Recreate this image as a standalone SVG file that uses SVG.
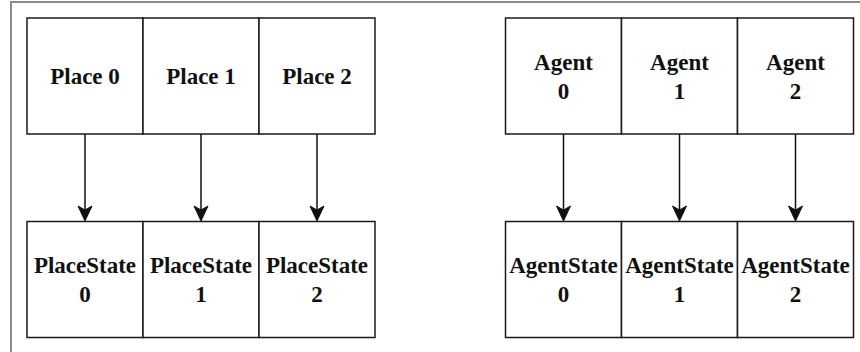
<svg xmlns="http://www.w3.org/2000/svg" width="860" height="352" viewBox="0 0 860 352">
  <style>
    .cell { fill: #ffffff; stroke: #1a1a1a; stroke-width: 1.5; }
    .lbl { font-family: "Liberation Serif", "Times New Roman", serif; font-weight: bold; font-size: 23px; fill: #111111; text-anchor: middle; }
    .edge { stroke: #111111; stroke-width: 1.5; fill: none; }
    .head { fill: #111111; stroke: #111111; stroke-width: 1; stroke-linejoin: miter; }
  </style>
  <defs>
    <!-- classic notched arrowhead, tip at origin pointing down -->
    <path id="arrowhead" class="head" d="M0,0 L-7,-15 L0,-11 L7,-15 Z"/>
  </defs>
  <rect width="860" height="352" fill="#ffffff"/>
  <!-- outer frame -->
  <path d="M11,352 L11,2 L860,2" fill="none" stroke="#8a8a8a" stroke-width="2"/>

  <!-- Places -->
  <g id="place0"><rect class="cell" x="27" y="18" width="116" height="116"/><text class="lbl" x="85" y="84">Place 0</text></g>
  <g id="place1"><rect class="cell" x="143" y="18" width="116" height="116"/><text class="lbl" x="201" y="84">Place 1</text></g>
  <g id="place2"><rect class="cell" x="259" y="18" width="116" height="116"/><text class="lbl" x="317" y="84">Place 2</text></g>

  <!-- PlaceStates -->
  <g id="placestate0"><rect class="cell" x="27" y="221.5" width="116" height="116"/><text class="lbl" x="85" y="273">PlaceState</text><text class="lbl" x="85" y="302">0</text></g>
  <g id="placestate1"><rect class="cell" x="143" y="221.5" width="116" height="116"/><text class="lbl" x="201" y="273">PlaceState</text><text class="lbl" x="201" y="302">1</text></g>
  <g id="placestate2"><rect class="cell" x="259" y="221.5" width="116" height="116"/><text class="lbl" x="317" y="273">PlaceState</text><text class="lbl" x="317" y="302">2</text></g>

  <!-- Agents -->
  <g id="agent0"><rect class="cell" x="505.5" y="18" width="116" height="116"/><text class="lbl" x="563.5" y="70">Agent</text><text class="lbl" x="563.5" y="99">0</text></g>
  <g id="agent1"><rect class="cell" x="621.5" y="18" width="116" height="116"/><text class="lbl" x="679.5" y="70">Agent</text><text class="lbl" x="679.5" y="99">1</text></g>
  <g id="agent2"><rect class="cell" x="737.5" y="18" width="116" height="116"/><text class="lbl" x="795.5" y="70">Agent</text><text class="lbl" x="795.5" y="99">2</text></g>

  <!-- AgentStates -->
  <g id="agentstate0"><rect class="cell" x="505.5" y="221.5" width="116" height="116"/><text class="lbl" x="563.5" y="273">AgentState</text><text class="lbl" x="563.5" y="302">0</text></g>
  <g id="agentstate1"><rect class="cell" x="621.5" y="221.5" width="116" height="116"/><text class="lbl" x="679.5" y="273">AgentState</text><text class="lbl" x="679.5" y="302">1</text></g>
  <g id="agentstate2"><rect class="cell" x="737.5" y="221.5" width="116" height="116"/><text class="lbl" x="795.5" y="273">AgentState</text><text class="lbl" x="795.5" y="302">2</text></g>

  <!-- connectors: each cell feeds the state cell below it -->
  <g id="connectors">
    <line class="edge" x1="85" y1="134" x2="85" y2="212"/><use href="#arrowhead" x="85" y="221"/>
    <line class="edge" x1="201" y1="134" x2="201" y2="212"/><use href="#arrowhead" x="201" y="221"/>
    <line class="edge" x1="317" y1="134" x2="317" y2="212"/><use href="#arrowhead" x="317" y="221"/>
    <line class="edge" x1="563.5" y1="134" x2="563.5" y2="212"/><use href="#arrowhead" x="563.5" y="221"/>
    <line class="edge" x1="679.5" y1="134" x2="679.5" y2="212"/><use href="#arrowhead" x="679.5" y="221"/>
    <line class="edge" x1="795.5" y1="134" x2="795.5" y2="212"/><use href="#arrowhead" x="795.5" y="221"/>
  </g>
</svg>
